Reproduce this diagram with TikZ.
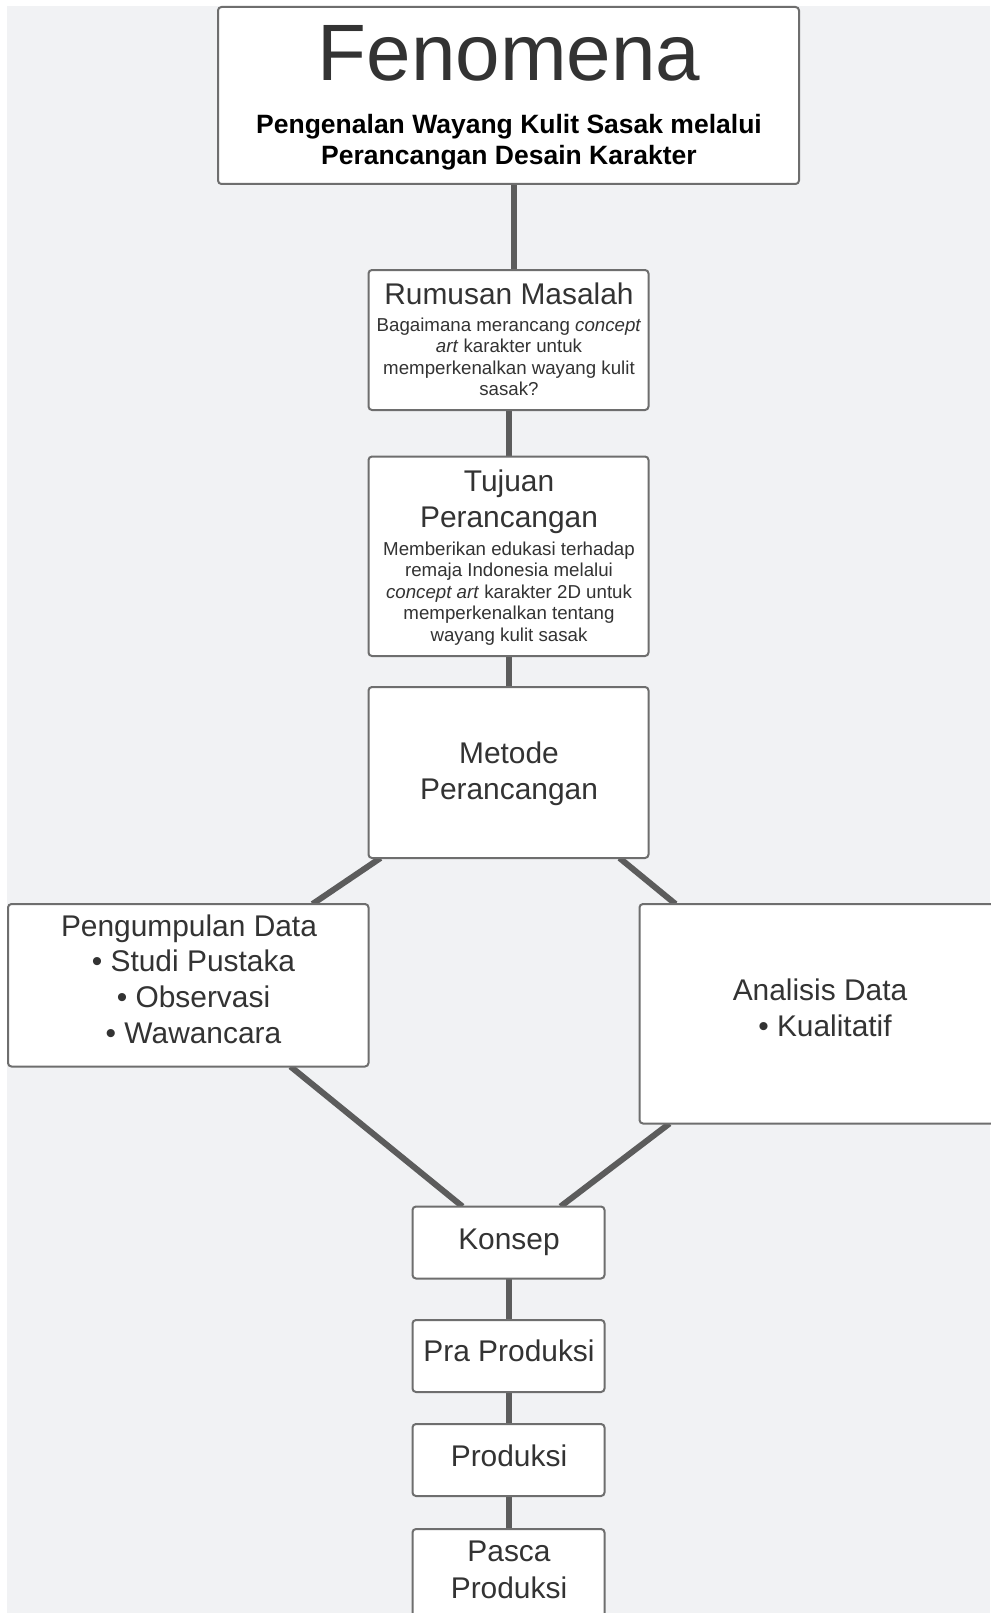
\documentclass[tikz,border=0pt]{standalone}
\usepackage{fontspec}
\setmainfont{Liberation Sans}
\usetikzlibrary{backgrounds}
\definecolor{bgc}{HTML}{F1F2F4}
\definecolor{edgec}{HTML}{5C5C5C}
\definecolor{framec}{HTML}{6E6E6E}
\definecolor{inkc}{HTML}{333333}
\begin{document}
\begin{tikzpicture}[x=1pt,y=-1pt,
  box/.style={draw=framec, line width=2pt, fill=white, rounded corners=3.5pt, inner sep=0pt, outer sep=0pt},
  conn/.style={draw=edgec, line width=6pt},
  ttl/.style={anchor=base, inner sep=0pt, text=inkc, font=\fontsize{29.9}{36}\selectfont},
  bdy/.style={anchor=base, inner sep=0pt, text=inkc, font=\fontsize{18.7}{21.5}\selectfont},
]
\useasboundingbox (0,0) rectangle (990,1613);

% boxes
\node[box, minimum width=581pt, minimum height=177pt] (fen) at (508.5,95.5) {};
\node[box, minimum width=280pt, minimum height=140pt] (rum) at (508.5,340) {};
\node[box, minimum width=280pt, minimum height=199.5pt] (tuj) at (508.5,556.25) {};
\node[box, minimum width=280pt, minimum height=171pt] (met) at (508.5,772.5) {};
\node[box, minimum width=360.5pt, minimum height=162.5pt] (pen) at (188.25,985.25) {};
\node[box, minimum width=361pt, minimum height=219.5pt] (ana) at (820,1013.75) {};
\node[box, minimum width=192pt, minimum height=72pt] (kon) at (508.5,1242.5) {};
\node[box, minimum width=192pt, minimum height=72pt] (pra) at (508.5,1356) {};
\node[box, minimum width=192pt, minimum height=72pt] (pro) at (508.5,1460) {};
\node[box, minimum width=192pt, minimum height=106pt] (pas) at (508.5,1582) {};

% texts
\node[anchor=base, inner sep=0pt, text=inkc, font=\fontsize{80}{90}\selectfont] (fent) at (509,81) {Fenomena};
\node[anchor=base, inner sep=0pt, text=black, font=\bfseries\fontsize{26.5}{31}\selectfont] (fens1) at (509,134) {Pengenalan Wayang Kulit Sasak melalui};
\node[anchor=base, inner sep=0pt, text=black, font=\bfseries\fontsize{26.5}{31}\selectfont] (fens2) at (509,165) {Perancangan Desain Karakter};

\node[ttl] (rumt) at (509,304) {Rumusan Masalah};
\node[bdy] (rum1) at (509,331.5) {Bagaimana merancang \textit{concept}};
\node[bdy] (rum2) at (509,352.7) {\textit{art} karakter untuk};
\node[bdy] (rum3) at (509,374) {memperkenalkan wayang kulit};
\node[bdy] (rum4) at (509,395.5) {sasak?};

\node[ttl] (tujt1) at (509,491.5) {Tujuan};
\node[ttl] (tujt2) at (509,527) {Perancangan};
\node[bdy] (tuj1) at (509,555) {Memberikan edukasi terhadap};
\node[bdy] (tuj2) at (509,576.5) {remaja Indonesia melalui};
\node[bdy] (tuj3) at (509,598) {\textit{concept art} karakter 2D untuk};
\node[bdy] (tuj4) at (509,619.5) {memperkenalkan tentang};
\node[bdy] (tuj5) at (509,641) {wayang kulit sasak};

\node[ttl] (met1) at (509,763.5) {Metode};
\node[ttl] (met2) at (509,799.5) {Perancangan};

\node[ttl] (pen1) at (189,936) {Pengumpulan Data};
\node[ttl] (pen2) at (193.5,971.5) {• Studi Pustaka};
\node[ttl] (pen3) at (193.5,1007) {• Observasi};
\node[ttl] (pen4) at (193.5,1043) {• Wawancara};

\node[ttl] (ana1) at (820,1000) {Analisis Data};
\node[ttl] (ana2) at (825,1036) {• Kualitatif};

\node[ttl] (kont) at (509,1249.3) {Konsep};
\node[ttl] (prat) at (509,1361) {Pra Produksi};
\node[ttl] (prot) at (509,1466.7) {Produksi};
\node[ttl] (past1) at (509,1561.7) {Pasca};
\node[ttl] (past2) at (509,1598.3) {Produksi};

\begin{scope}[on background layer]
\fill[white] (0,0) rectangle (990,1613);
\fill[bgc] (7,6) rectangle (990,1613);
\draw[conn] ([xshift=5.5pt]fen.south) -- ([xshift=5.5pt]fen.south |- rum.north);
\draw[conn] ([xshift=0.5pt]rum.south) -- ([xshift=0.5pt]tuj.north);
\draw[conn] ([xshift=0.5pt]tuj.south) -- ([xshift=0.5pt]met.north);
\draw[conn] ([xshift=12pt]met.south west) -- ([xshift=-56pt]pen.north east);
\draw[conn] ([xshift=-29pt]met.south east) -- ([xshift=36pt]ana.north west);
\draw[conn] ([xshift=-78pt]pen.south east) -- ([xshift=50pt]kon.north west);
\draw[conn] ([xshift=30pt]ana.south west) -- ([xshift=-44pt]kon.north east);
\draw[conn] (kon.south) -- (pra.north);
\draw[conn] (pra.south) -- (pro.north);
\draw[conn] (pro.south) -- (pas.north);
\end{scope}
\end{tikzpicture}
\end{document}
